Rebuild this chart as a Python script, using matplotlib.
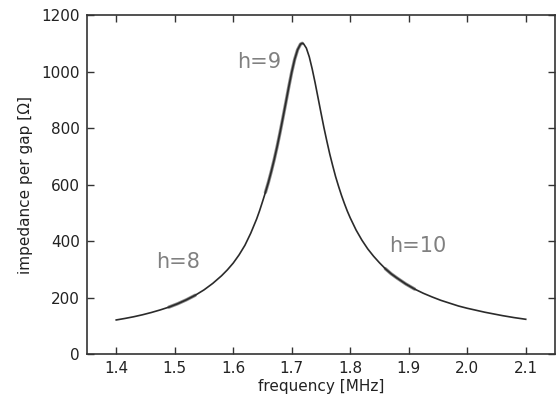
import matplotlib
matplotlib.use("Agg")
import matplotlib.pyplot as plt
import numpy as np

# frequency [MHz] and impedance per gap [Ohm]
freq = [1.40, 1.415, 1.43, 1.445, 1.46, 1.475, 1.49, 1.505, 1.52, 1.535, 1.55,
        1.565, 1.58, 1.59, 1.60, 1.61, 1.62, 1.63, 1.64, 1.645, 1.65, 1.655,
        1.66, 1.665, 1.67, 1.675, 1.68, 1.685, 1.69, 1.695, 1.70, 1.705, 1.71,
        1.715, 1.718, 1.72, 1.725, 1.73, 1.735, 1.74, 1.745, 1.75, 1.755, 1.76,
        1.765, 1.77, 1.775, 1.78, 1.785, 1.79, 1.795, 1.80, 1.81, 1.82, 1.83,
        1.84, 1.85, 1.86, 1.87, 1.88, 1.895, 1.91, 1.925, 1.94, 1.955, 1.97,
        1.985, 2.00, 2.015, 2.03, 2.045, 2.06, 2.08, 2.10]
imped = [120.6, 126, 132, 139, 147, 156, 166, 178, 192, 208, 227,
         250, 277, 298, 322, 351, 385, 428, 478, 507, 539, 572,
         607, 646, 688, 734, 784, 837, 891, 946, 998, 1043, 1077,
         1097, 1100, 1099, 1083, 1052, 1009, 960, 907, 854, 802, 754,
         708, 667, 628, 594, 562, 533, 506, 482, 439, 403, 372,
         346, 323, 302, 284, 269, 248, 230, 215, 202, 190, 180,
         170, 162, 155, 148, 142, 136, 129, 123]

# harmonic ranges highlighted in gray
harm_labels = ["h=8", "h=9", "h=10"]
harm_ranges = [(1.49, 1.535), (1.655, 1.718), (1.855, 1.91)]
label_pos = [(1.505, 325), (1.645, 1035), (1.916, 382)]

fig = plt.figure(figsize=(5.59, 3.96), dpi=100)
ax = fig.add_axes([0.1556, 0.106, 0.8372, 0.856])

f = np.array(freq)
z = np.array(imped)
for (a, b) in harm_ranges:
    m = (f >= a - 1e-9) & (f <= b + 1e-9)
    ax.plot(f[m], z[m], color="#8c8c8c", lw=2.4, solid_capstyle="round", zorder=2)
ax.plot(f, z, color="#2b2b2b", lw=1.2, zorder=3)

for lab, (x, y) in zip(harm_labels, label_pos):
    ax.text(x, y, lab, color="#808080", fontsize=15, ha="center", va="center")

ax.set_xlim(1.35, 2.15)
ax.set_ylim(0, 1200)
ax.set_xticks([1.4, 1.5, 1.6, 1.7, 1.8, 1.9, 2.0, 2.1])
ax.set_xticklabels(["1.4", "1.5", "1.6", "1.7", "1.8", "1.9", "2.0", "2.1"])
ax.set_yticks([0, 200, 400, 600, 800, 1000, 1200])
ax.tick_params(direction="in", top=True, right=True, length=5, width=1,
               labelsize=11, colors="#333333", labelcolor="#222222", pad=5)
for s in ax.spines.values():
    s.set_color("#333333")
    s.set_linewidth(1.2)
ax.set_xlabel("frequency [MHz]", fontsize=11, color="#222222", labelpad=2)
ax.set_ylabel("impedance per gap [Ω]", fontsize=11, color="#222222", labelpad=6)

fig.savefig("out.png", dpi=100)
